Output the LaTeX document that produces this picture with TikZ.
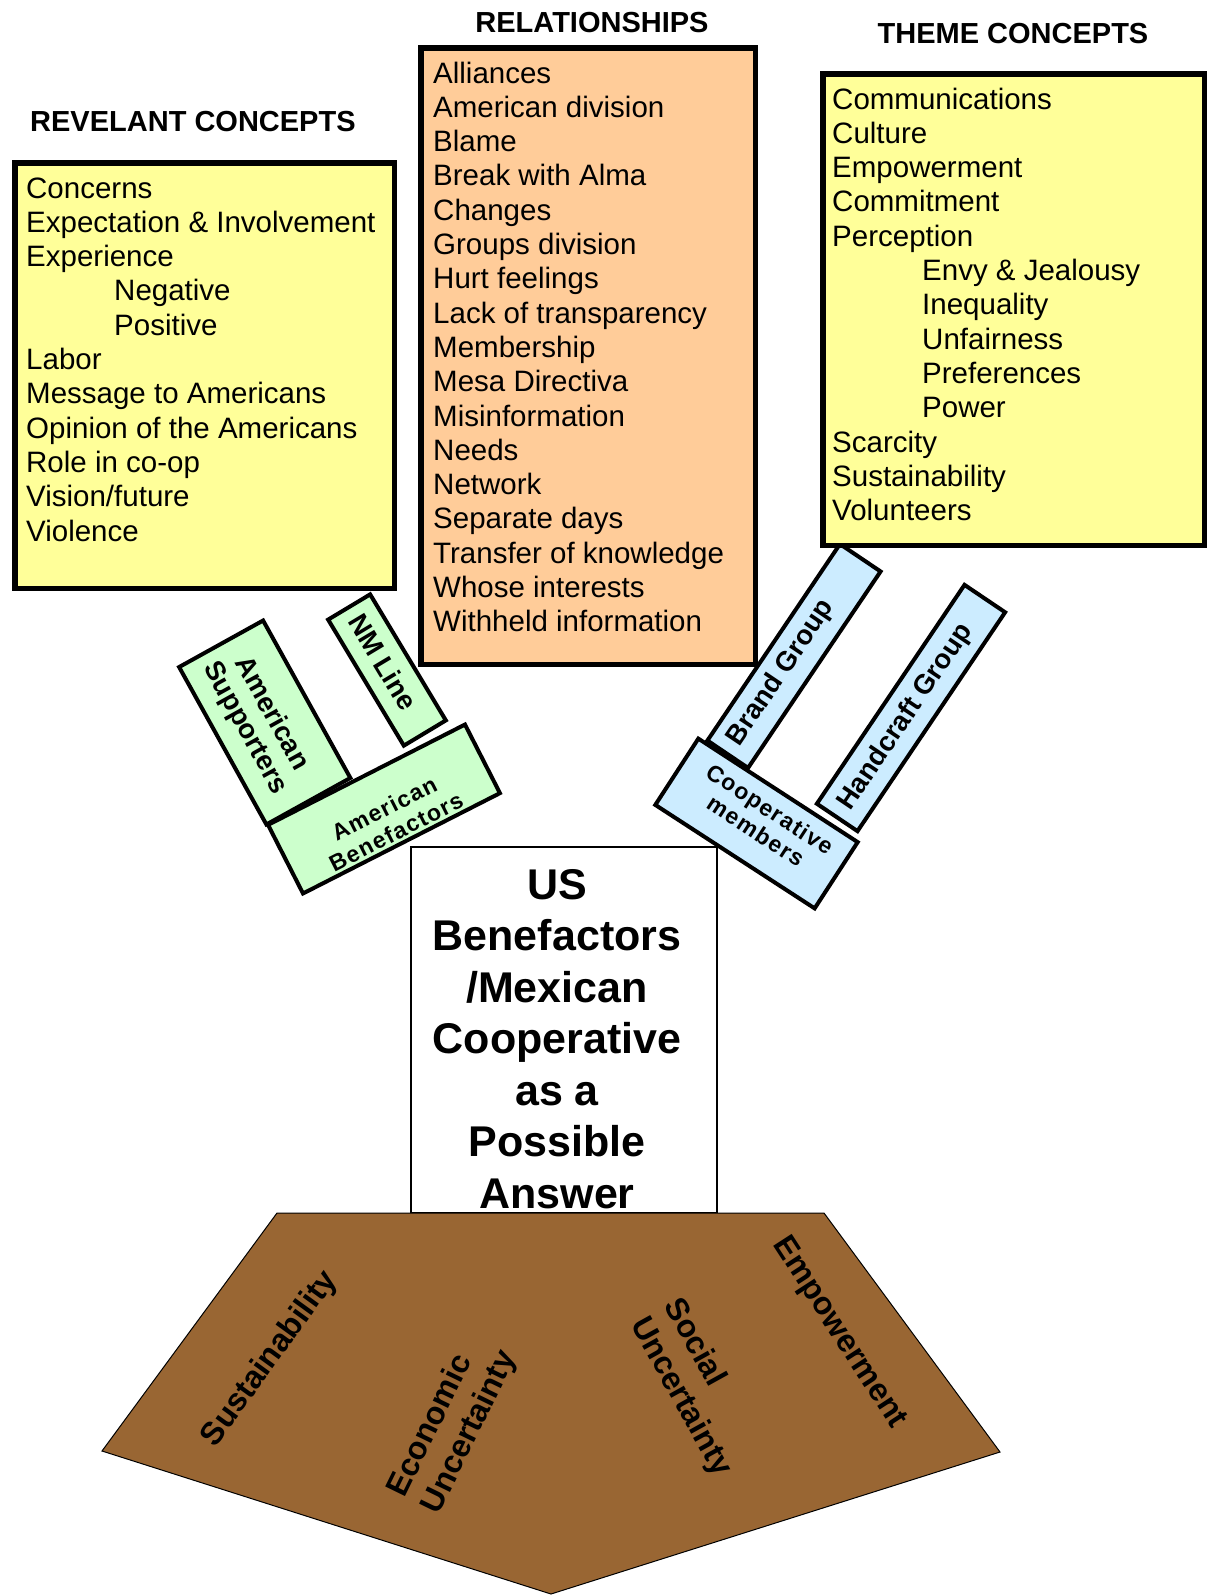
\documentclass[tikz,border=0pt]{standalone}
\usepackage{fontspec}
\setmainfont{Liberation Sans}
\definecolor{ylw}{HTML}{FFFF99}
\definecolor{org}{HTML}{FFCC99}
\definecolor{grn}{HTML}{CCFFCC}
\definecolor{blu}{HTML}{CCECFF}
\definecolor{brn}{HTML}{996633}
\tikzset{
  mainbox/.style={draw=black, line width=5.5pt, inner sep=0pt},
  listtxt/.style={anchor=base west, inner sep=0pt, font=\fontsize{29.5}{34.3}\selectfont},
  headtxt/.style={anchor=base, inner sep=0pt, font=\bfseries\fontsize{29}{34}\selectfont},
  tagbox/.style={draw=black, line width=4pt, inner sep=0pt},
  tagtxt/.style={inner sep=0pt, align=center, font=\bfseries\fontsize{27.5}{30}\selectfont},
  smalltxt/.style={inner sep=0pt, align=center, font=\bfseries\fontsize{23}{26}\selectfont\addfontfeature{LetterSpace=6}},
  centtxt/.style={anchor=base, inner sep=0pt, font=\bfseries\fontsize{43}{51.5}\selectfont},
  penttxt/.style={inner sep=0pt, align=left, font=\bfseries\fontsize{32}{38}\selectfont}
}
\newcommand\litem[5]{\node[listtxt] (#1) at (#2,{#3+34.3*(#4)}) {#5};}
\newcommand\citem[3]{\node[centtxt] (#1) at (557,{899+51.5*(#2)}) {#3};}
\begin{document}
\begin{tikzpicture}[x=1pt,y=-1pt]
\useasboundingbox (0,0) rectangle (1209,1596);

% rotated tag boxes (green)
\node[tagbox, fill=grn, rotate=-61, minimum width=180pt, minimum height=96pt] (supbox) at (264.75,722.5) {};
\node[tagbox, fill=grn, rotate=-59, minimum width=147pt, minimum height=49pt] (nmbox) at (387,670) {};
\node[tagbox, fill=grn, rotate=27, minimum width=221pt, minimum height=77pt] (benbox) at (384,809) {};
\node[tagtxt, rotate=-61] (suptxt) at (258,721) {American\\Supporters};
\node[tagtxt, rotate=-59] (nmtxt) at (383,662) {NM Line};
\node[smalltxt, rotate=27] (bentxt) at (390,820) {American\\Benefactors};

% rotated tag boxes (blue)
\node[tagbox, fill=blu, rotate=56, minimum width=237pt, minimum height=49pt] (brbox) at (794,656) {};
\node[tagbox, fill=blu, rotate=56, minimum width=264pt, minimum height=49pt] (hcbox) at (911,708) {};
\node[tagbox, fill=blu, rotate=-33, minimum width=190pt, minimum height=79pt] (cobox) at (756.5,823.5) {};
\node[tagtxt, rotate=56] (brtxt) at (781,673) {Brand Group};
\node[tagtxt, rotate=56] (hctxt) at (906,717) {Handcraft Group};
\node[smalltxt, rotate=-33] (cotxt) at (763,820) {Cooperative\\members};

% main boxes
\node[mainbox, fill=ylw, minimum width=379.5pt, minimum height=425.5pt] (leftbox) at (204.5,375.5) {};
\node[mainbox, fill=org, minimum width=334.5pt, minimum height=616.5pt] (midbox) at (588,356) {};
\node[mainbox, fill=ylw, minimum width=381.5pt, minimum height=471.5pt] (rightbox) at (1013.5,309.5) {};

% headings
\node[headtxt, anchor=base west] (h1) at (30,131) {REVELANT CONCEPTS};
\node[headtxt] (h2) at (592,32) {RELATIONSHIPS};
\node[headtxt] (h3) at (1013,43) {THEME CONCEPTS};

% left list
\litem{a1}{26}{198}{0}{Concerns}
\litem{a2}{26}{198}{1}{Expectation \& Involvement}
\litem{a3}{26}{198}{2}{Experience}
\litem{a4}{114}{198}{3}{Negative}
\litem{a5}{114}{198}{4}{Positive}
\litem{a6}{26}{198}{5}{Labor}
\litem{a7}{26}{198}{6}{Message to Americans}
\litem{a8}{26}{198}{7}{Opinion of the Americans}
\litem{a9}{26}{198}{8}{Role in co-op}
\litem{a10}{26}{198}{9}{Vision/future}
\litem{a11}{26}{198}{10}{Violence}

% middle list
\litem{b1}{433}{83}{0}{Alliances}
\litem{b2}{433}{83}{1}{American division}
\litem{b3}{433}{83}{2}{Blame}
\litem{b4}{433}{83}{3}{Break with Alma}
\litem{b5}{433}{83}{4}{Changes}
\litem{b6}{433}{83}{5}{Groups division}
\litem{b7}{433}{83}{6}{Hurt feelings}
\litem{b8}{433}{83}{7}{Lack of transparency}
\litem{b9}{433}{83}{8}{Membership}
\litem{b10}{433}{83}{9}{Mesa Directiva}
\litem{b11}{433}{83}{10}{Misinformation}
\litem{b12}{433}{83}{11}{Needs}
\litem{b13}{433}{83}{12}{Network}
\litem{b14}{433}{83}{13}{Separate days}
\litem{b15}{433}{83}{14}{Transfer of knowledge}
\litem{b16}{433}{83}{15}{Whose interests}
\litem{b17}{433}{83}{16}{Withheld information}

% right list
\litem{c1}{832}{109}{0}{Communications}
\litem{c2}{832}{109}{1}{Culture}
\litem{c3}{832}{109}{2}{Empowerment}
\litem{c4}{832}{109}{3}{Commitment}
\litem{c5}{832}{109}{4}{Perception}
\litem{c6}{922}{109}{5}{Envy \& Jealousy}
\litem{c7}{922}{109}{6}{Inequality}
\litem{c8}{922}{109}{7}{Unfairness}
\litem{c9}{922}{109}{8}{Preferences}
\litem{c10}{922}{109}{9}{Power}
\litem{c11}{832}{109}{10}{Scarcity}
\litem{c12}{832}{109}{11}{Sustainability}
\litem{c13}{832}{109}{12}{Volunteers}

% centre box
\node[draw=black, line width=1.5pt, fill=white, minimum width=306pt, minimum height=366pt, inner sep=0pt] (cbox) at (564,1030) {};
\citem{d1}{0}{US}
\citem{d2}{1}{Benefactors}
\citem{d3}{2}{/Mexican}
\citem{d4}{3}{Cooperative}
\citem{d5}{4}{as a}
\citem{d6}{5}{Possible}
\citem{d7}{6}{Answer}

% pentagon base
\coordinate (p1) at (277,1213);
\coordinate (p2) at (824,1213);
\coordinate (p3) at (1000,1452);
\coordinate (p4) at (551,1594);
\coordinate (p5) at (102,1451);
\draw[fill=brn, draw=black, line width=1pt] (p1) -- (p2) -- (p3) -- (p4) -- (p5) -- cycle;
\node[penttxt, rotate=54] (sust) at (270,1359) {Sustainability};
\node[penttxt, rotate=64] (econ) at (453,1424) {Economic\\Uncertainty};
\node[penttxt, rotate=-61] (soc) at (697,1388) {Social\\Uncertainty};
\node[penttxt, rotate=-57] (emp) at (839,1333) {Empowerment};
\end{tikzpicture}
\end{document}
